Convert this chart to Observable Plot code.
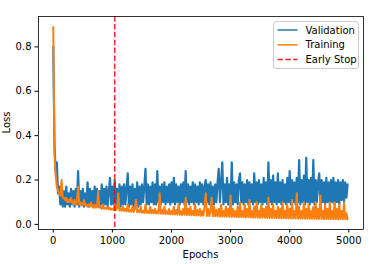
<!DOCTYPE html>
<html>
<head>
<meta charset="utf-8">
<script src="https://cdn.jsdelivr.net/npm/d3@7"></script>
<script src="https://cdn.jsdelivr.net/npm/@observablehq/plot@0.6"></script>
<style>
  html, body { margin: 0; padding: 0; background: #fff; }
  #chart { width: 379px; height: 264px; }
  svg { font-family: "DejaVu Sans", sans-serif; }
</style>
</head>
<body>
<div id="chart"></div>
<script>
// ---- data (one sample every epochStep epochs) ----
const epochStep = 20;
const validation = [
  0.80, 0.36, 0.24, 0.28, 0.14, 0.17, 0.09, 0.16, 0.08, 0.15,
  0.08, 0.17, 0.09, 0.14, 0.08, 0.16, 0.09, 0.15, 0.08, 0.16,
  0.09, 0.24, 0.08, 0.15, 0.09, 0.16, 0.08, 0.14, 0.09, 0.19,
  0.08, 0.16, 0.09, 0.15, 0.08, 0.17, 0.09, 0.16, 0.08, 0.15,
  0.09, 0.18, 0.08, 0.16, 0.09, 0.17, 0.08, 0.15, 0.21, 0.09,
  0.17, 0.09, 0.20, 0.08, 0.16, 0.09, 0.18, 0.08, 0.17, 0.09,
  0.18, 0.09, 0.16, 0.23, 0.08, 0.17, 0.09, 0.18, 0.08, 0.16,
  0.09, 0.19, 0.08, 0.17, 0.09, 0.18, 0.10, 0.17, 0.25, 0.09,
  0.18, 0.09, 0.17, 0.10, 0.19, 0.09, 0.18, 0.09, 0.24, 0.10,
  0.17, 0.09, 0.18, 0.10, 0.19, 0.09, 0.17, 0.10, 0.18, 0.09,
  0.19, 0.10, 0.21, 0.09, 0.18, 0.10, 0.17, 0.09, 0.18, 0.10,
  0.19, 0.09, 0.24, 0.10, 0.18, 0.09, 0.17, 0.10, 0.19, 0.09,
  0.18, 0.10, 0.17, 0.09, 0.19, 0.10, 0.18, 0.09, 0.17, 0.20,
  0.10, 0.18, 0.09, 0.19, 0.10, 0.17, 0.09, 0.18, 0.10, 0.19,
  0.25, 0.10, 0.19, 0.28, 0.09, 0.18, 0.10, 0.21, 0.09, 0.18,
  0.10, 0.28, 0.09, 0.19, 0.10, 0.18, 0.09, 0.20, 0.23, 0.10,
  0.19, 0.09, 0.18, 0.10, 0.20, 0.09, 0.19, 0.10, 0.18, 0.09,
  0.23, 0.10, 0.19, 0.09, 0.20, 0.10, 0.18, 0.09, 0.21, 0.10,
  0.19, 0.09, 0.28, 0.10, 0.20, 0.09, 0.22, 0.10, 0.19, 0.09,
  0.23, 0.10, 0.19, 0.09, 0.20, 0.10, 0.18, 0.09, 0.21, 0.10,
  0.24, 0.09, 0.20, 0.10, 0.19, 0.09, 0.21, 0.10, 0.29, 0.09,
  0.20, 0.10, 0.22, 0.09, 0.30, 0.10, 0.20, 0.09, 0.21, 0.10,
  0.29, 0.09, 0.20, 0.10, 0.19, 0.23, 0.09, 0.20, 0.10, 0.19,
  0.09, 0.21, 0.10, 0.19, 0.09, 0.20, 0.10, 0.21, 0.09, 0.19,
  0.10, 0.20, 0.09, 0.19, 0.11, 0.20, 0.10, 0.19, 0.12, 0.18
];
const training = [
  0.89, 0.32, 0.22, 0.17, 0.15, 0.14, 0.13, 0.20, 0.12, 0.12,
  0.11, 0.12, 0.10, 0.11, 0.10, 0.12, 0.10, 0.09, 0.11, 0.09,
  0.10, 0.17, 0.09, 0.10, 0.085, 0.09, 0.11, 0.085, 0.09, 0.08,
  0.09, 0.08, 0.10, 0.08, 0.075, 0.09, 0.075, 0.08, 0.15, 0.075,
  0.08, 0.07, 0.09, 0.07, 0.075, 0.07, 0.08, 0.068, 0.075, 0.066,
  0.07, 0.065, 0.09, 0.064, 0.07, 0.14, 0.063, 0.07, 0.062, 0.08,
  0.06, 0.07, 0.059, 0.09, 0.058, 0.065, 0.057, 0.08, 0.056, 0.07,
  0.11, 0.055, 0.065, 0.054, 0.08, 0.053, 0.06, 0.052, 0.09, 0.052,
  0.06, 0.051, 0.08, 0.05, 0.065, 0.05, 0.07, 0.049, 0.06, 0.049,
  0.14, 0.048, 0.065, 0.048, 0.08, 0.047, 0.06, 0.047, 0.07, 0.046,
  0.06, 0.045, 0.08, 0.045, 0.065, 0.044, 0.09, 0.044, 0.06, 0.043,
  0.07, 0.043, 0.12, 0.042, 0.07, 0.042, 0.08, 0.041, 0.06, 0.041,
  0.09, 0.04, 0.065, 0.04, 0.07, 0.039, 0.06, 0.039, 0.08, 0.14,
  0.038, 0.07, 0.038, 0.06, 0.12, 0.037, 0.08, 0.037, 0.065, 0.036,
  0.07, 0.036, 0.09, 0.035, 0.06, 0.035, 0.08, 0.035, 0.07, 0.034,
  0.13, 0.034, 0.07, 0.034, 0.06, 0.033, 0.08, 0.033, 0.10, 0.033,
  0.06, 0.032, 0.09, 0.032, 0.07, 0.032, 0.11, 0.031, 0.06, 0.031,
  0.08, 0.031, 0.10, 0.03, 0.06, 0.03, 0.09, 0.03, 0.07, 0.03,
  0.08, 0.029, 0.12, 0.029, 0.07, 0.029, 0.09, 0.029, 0.06, 0.028,
  0.08, 0.028, 0.07, 0.028, 0.10, 0.028, 0.06, 0.027, 0.09, 0.027,
  0.07, 0.027, 0.11, 0.027, 0.06, 0.027, 0.14, 0.026, 0.08, 0.026,
  0.06, 0.026, 0.10, 0.026, 0.07, 0.026, 0.09, 0.025, 0.06, 0.025,
  0.08, 0.025, 0.10, 0.025, 0.07, 0.025, 0.13, 0.025, 0.06, 0.024,
  0.09, 0.024, 0.07, 0.024, 0.10, 0.024, 0.06, 0.024, 0.10, 0.024,
  0.07, 0.023, 0.09, 0.023, 0.06, 0.023, 0.10, 0.023, 0.05, 0.023
];
const earlyStop = [1040];
const xTicks = [0, 1000, 2000, 3000, 4000, 5000];
const yTicks = [0.0, 0.2, 0.4, 0.6, 0.8];
const seriesNames = ["Validation", "Training", "Early Stop"];
const seriesColors = ["#1f77b4", "#ff7f0e", "#ff0000"];

const valRows = validation.map((v, i) => ({epoch: i * epochStep, loss: v}));
const trRows = training.map((v, i) => ({epoch: i * epochStep, loss: v}));

const W = 379, H = 264;
const M = {left: 38, right: 16, top: 16, bottom: 35};

const chart = Plot.plot({
  width: W, height: H,
  marginLeft: M.left, marginRight: M.right, marginTop: M.top, marginBottom: M.bottom,
  style: {fontFamily: "DejaVu Sans, sans-serif", fontSize: "10px", color: "#000", background: "#fff"},
  x: {domain: [-250, 5249]},
  y: {domain: [-0.023, 0.937]},
  marks: [
    Plot.line(valRows, {x: "epoch", y: "loss", stroke: seriesColors[0], strokeWidth: 2.2}),
    Plot.line(trRows, {x: "epoch", y: "loss", stroke: seriesColors[1], strokeWidth: 2}),
    Plot.ruleX(earlyStop, {stroke: seriesColors[2], strokeWidth: 1.5, strokeDasharray: "5.5,2.4", strokeOpacity: 0.85}),
    Plot.frame({stroke: "#000", strokeWidth: 0.8}),
    Plot.axisX(xTicks, {tickSize: 3.5, tickPadding: 3.5, fontSize: 10, label: null, tickFormat: d3.format("d")}),
    Plot.axisY(yTicks, {tickSize: 3.5, tickPadding: 3.5, fontSize: 10, label: null, tickFormat: d3.format(".1f")})
  ]
});
document.getElementById("chart").appendChild(chart);

// axis titles and legend
const svg = d3.select(chart);
svg.append("text").attr("x", (M.left + W - M.right) / 2).attr("y", 257.5)
  .attr("text-anchor", "middle").attr("font-size", 10).attr("fill", "#000").text("Epochs");
svg.append("text").attr("transform", `translate(10,${(M.top + H - M.bottom) / 2}) rotate(-90)`)
  .attr("text-anchor", "middle").attr("font-size", 10).attr("fill", "#000").text("Loss");

const lg = svg.append("g").attr("transform", "translate(273.5,21.5)");
lg.append("rect").attr("width", 85).attr("height", 47).attr("rx", 2.5)
  .attr("fill", "#fff").attr("fill-opacity", 0.8).attr("stroke", "#ccc").attr("stroke-width", 1);
seriesNames.forEach((name, i) => {
  const y = 8.5 + i * 14.8;
  lg.append("line").attr("x1", 4).attr("x2", 24).attr("y1", y).attr("y2", y)
    .attr("stroke", seriesColors[i]).attr("stroke-width", 1.5)
    .attr("stroke-dasharray", i === 2 ? "5.5,2.4" : null)
    .attr("stroke-opacity", i === 2 ? 0.85 : 1);
  lg.append("text").attr("x", 32).attr("y", y + 3.6).attr("text-anchor", "start")
    .attr("font-size", 10).attr("fill", "#000").text(name);
});
</script>
</body>
</html>
